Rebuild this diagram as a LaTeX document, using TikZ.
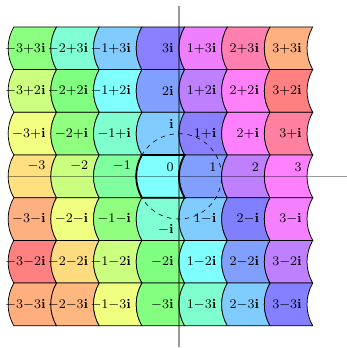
\RequirePackage{fix-cm}
\documentclass[tikz,border=0pt]{standalone}
\usepackage{amsmath,amssymb}
\usepackage{tikz}
\usepackage{xcolor}
\usetikzlibrary{positioning}

% label a+bi of one tile
\newcommand{\gausslabel}[2]{%
  \ifnum#2=0 #1\else
    \ifnum#1=0 \else #1\ifnum#2>0 {+}\fi\fi
    \ifnum#2=1 \else\ifnum#2=-1 {-}\else {#2}\fi\fi\mathbf{i}\fi}

\begin{document}
\begin{tikzpicture}[every node/.style={font=\fontsize{8.8}{10}\selectfont},
  tile/.style={draw=black,line width=0.5pt},
  axis/.style={draw=black,opacity=0.4,line width=0.8pt}]
\useasboundingbox (-4.19,-4.02) rectangle (3.93,4.13);
% tiles, row by row (hues for a=-3..3)
\foreach \b/\hues in {3/{115,160,204,245,292,337,23},2/{84,120,180,225,270,303,0},1/{66,112,157,204,245,300,345},0/{45,85,135,180,225,270,300},-1/{23,67,112,160,204,240,295},-2/{0,43,85,120,180,225,270},-3/{22,26,67,118,157,204,242}} {
  \foreach \h [count=\a from -3] in \hues {
    \definecolor{hsbcol}{Hsb}{\h,0.5,1}
    \colorlet{tilecol}[rgb]{hsbcol}
    \filldraw[tile,fill=tilecol] ({\a-1+0.134},{\b-0.5}) arc[start angle=210,end angle=150,radius=1]
      -- ++(1,0) arc[start angle=150,end angle=210,radius=1] -- cycle;
  }
}
\draw[very thick] (-0.866,-0.5) arc[start angle=210,end angle=150,radius=1]
  -- ++(1,0) arc[start angle=150,end angle=210,radius=1] -- cycle;
% axes and unit circle
\draw[axis] (-4,0) -- (4,0);
\draw[axis] (0,-4) -- (0,4);
\draw[dashed] (0,0) circle[radius=1];
% labels
\foreach \b in {3,...,-3} {
  \foreach \a in {-3,...,3} {
    \def\anc{east}
    \ifnum\b=0 \def\anc{south east}\fi
    \ifnum\a=0 \ifnum\b=1 \def\anc{south east}\fi\ifnum\b=-1 \def\anc{north east}\fi\fi
    \node[anchor=\anc] (z\a\b) at (\a,\b) {$\gausslabel{\a}{\b}$};
  }
}
\end{tikzpicture}
\end{document}
